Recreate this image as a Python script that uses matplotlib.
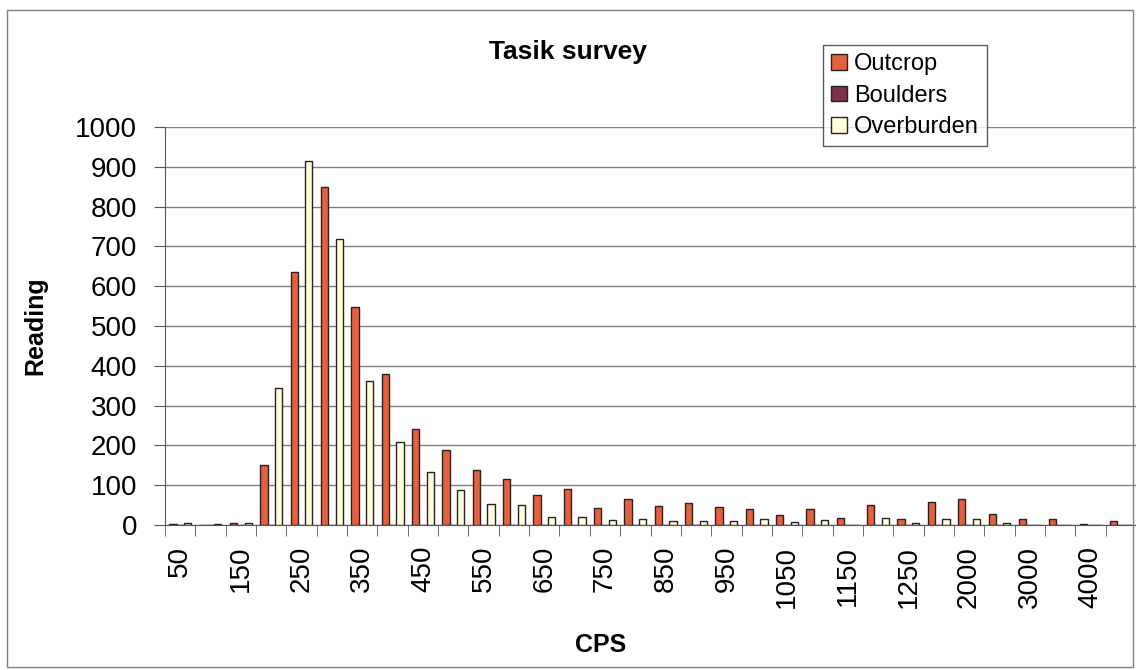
import matplotlib.pyplot as plt
import numpy as np
from matplotlib.patches import Rectangle

plt.rcParams['font.family'] = ['Liberation Sans', 'DejaVu Sans']

# CPS classes (x categories)
cps = ['50', '100', '150', '200', '250', '300', '350', '400', '450', '500',
       '550', '600', '650', '700', '750', '800', '850', '900', '950', '1000',
       '1050', '1100', '1150', '1200', '1250', '1500', '2000', '2500', '3000',
       '3500', '4000', '4500']

# readings per class
outcrop = [3, 0, 5, 150, 636, 848, 548, 379, 241, 188,
           137, 115, 75, 90, 43, 66, 48, 55, 44, 40,
           25, 41, 18, 49, 15, 59, 65, 28, 15, 14,
           3, 11]
boulders = [0, 0, 0, 0, 0, 0, 0, 0, 0, 0,
            0, 0, 0, 0, 0, 0, 0, 0, 0, 0,
            0, 0, 0, 0, 0, 0, 0, 0, 0, 0,
            0, 0]
overburden = [5, 3, 5, 343, 914, 719, 362, 208, 134, 87,
              54, 50, 19, 19, 13, 14, 11, 11, 11, 14,
              8, 12, 0, 17, 5, 14, 15, 4, 0, 0,
              0, 0]

fig = plt.figure(figsize=(11.36, 6.70), dpi=100)
W, H = 1136, 670
ax = fig.add_axes([165 / W, 1 - 525 / H, 971 / W, 398 / H])

x = np.arange(len(cps))
w = 0.24
edge = '#2a2020'
ax.bar(x - w, outcrop, w, color='#E5603F', edgecolor=edge, linewidth=1, label='Outcrop', zorder=3)
ax.bar(x, boulders, w, color='#80304F', edgecolor=edge, linewidth=1, label='Boulders', zorder=3)
ax.bar(x + w, overburden, w, color='#FFFFDC', edgecolor=edge, linewidth=1, label='Overburden', zorder=3)

ax.set_xlim(-0.5, len(cps) - 0.5)
ax.set_ylim(0, 1000)
ax.set_yticks(np.arange(0, 1001, 100))
ax.yaxis.grid(True, color='#808080', linewidth=1)
ax.set_axisbelow(True)

ax.set_xticks(x[::2])
ax.set_xticklabels(cps[::2], rotation=90)
ax.set_xticks(np.arange(-0.5, len(cps), 1), minor=True)
ax.tick_params(axis='x', which='major', length=0, pad=15, labelsize=20)
ax.tick_params(axis='x', which='minor', length=8, color='#555555')
ax.tick_params(axis='y', length=8, color='#555555', pad=12, labelsize=20)

for s in ['top', 'right']:
    ax.spines[s].set_visible(False)
for s in ['left', 'bottom']:
    ax.spines[s].set_color('#555555')

fig.text(568 / W, 1 - 52 / H, 'Tasik survey', ha='center', va='center',
         fontsize=19, fontweight='bold')
fig.text(35 / W, 1 - 326 / H, 'Reading', ha='center', va='center',
         rotation=90, fontsize=18, fontweight='bold')
fig.text(601 / W, 1 - 645 / H, 'CPS', ha='center', va='center',
         fontsize=18, fontweight='bold')

fig.legend(loc='upper left', bbox_to_anchor=(823 / W, 1 - 45 / H),
           fontsize=17, frameon=True, fancybox=False, edgecolor='#333333',
           handlelength=0.65, handleheight=0.65, handletextpad=0.3,
           labelspacing=0.4, borderpad=0.35, borderaxespad=0)

# outer chart border
fig.patches.append(Rectangle((7 / W, 3 / H), 1126 / W, 657 / H, transform=fig.transFigure,
                             fill=False, edgecolor='#808080', linewidth=1))

fig.savefig('out.png', dpi=100)
